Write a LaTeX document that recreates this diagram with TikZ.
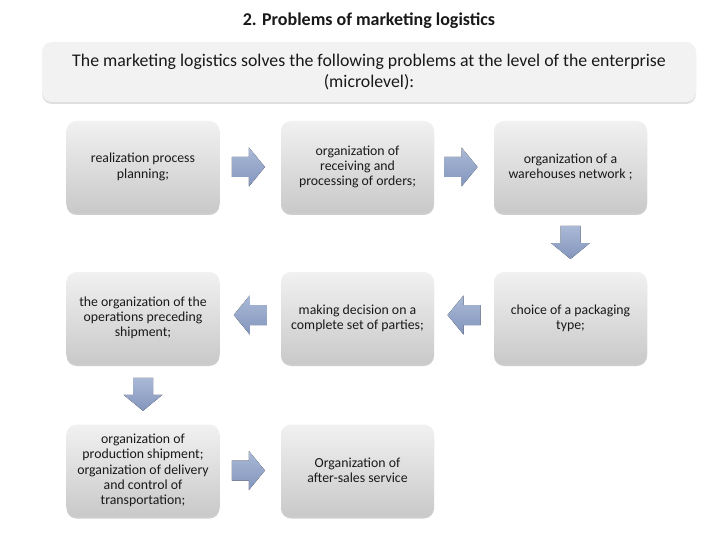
\documentclass[tikz,border=0pt]{standalone}
\usepackage{fontspec}
\setmainfont{Carlito}
\usetikzlibrary{shadows,calc}
\definecolor{arrA}{HTML}{AAB9D6}
\definecolor{arrB}{HTML}{8395BD}
\definecolor{boxT}{HTML}{F1F1F1}
\definecolor{boxB}{HTML}{C9C9C9}
\definecolor{hdrfill}{HTML}{F2F2F2}
\tikzset{
  stepbox/.style={rounded corners=10pt, minimum width=153pt, minimum height=92pt,
    top color=boxT, bottom color=boxB, align=center, inner sep=2pt,
    font=\fontsize{13.8}{15.3}\selectfont, text=black!90,
    drop shadow={shadow xshift=0pt, shadow yshift=-2pt, opacity=0.35, fill=black!55}},
  hdrbox/.style={rounded corners=10pt, minimum width=654pt, minimum height=60pt,
    fill=hdrfill, align=center, font=\fontsize{17.8}{21}\selectfont, text=black!90,
    drop shadow={shadow xshift=0pt, shadow yshift=-2pt, opacity=0.25, fill=black!50}},
  pics/rarr/.style={code={\fill[top color=arrA, bottom color=arrB]
    (-16.5,-10) -- (0.5,-10) -- (0.5,-19.5) -- (16.5,0) -- (0.5,19.5) -- (0.5,10) -- (-16.5,10) -- cycle;}},
  pics/larr/.style={code={\fill[top color=arrA, bottom color=arrB]
    (16.5,-10) -- (-0.5,-10) -- (-0.5,-19.5) -- (-16.5,0) -- (-0.5,19.5) -- (-0.5,10) -- (16.5,10) -- cycle;}},
  pics/darr/.style={code={\fill[top color=arrA, bottom color=arrB]
    (-10,-16.5) -- (-10,0.5) -- (-19.5,0.5) -- (0,16.5) -- (19.5,0.5) -- (10,0.5) -- (10,-16.5) -- cycle;}},
}
\begin{document}
\begin{tikzpicture}[x=1pt,y=-1pt]
\useasboundingbox (0,0) rectangle (720,540);
\fill[white] (0,0) rectangle (720,540);
\node[font=\bfseries\fontsize{18}{21}\selectfont, text=black!90] (title) at (369,21) {2. Problems of marketing logistics};
\node[hdrbox] (hdr) at (369,72) {The marketing logistics solves the following problems at the level of the enterprise\\(microlevel):};

\node[stepbox] (b1) at (143,167) {realization process\\planning;};
\node[stepbox] (b2) at (357.5,167) {organization of\\receiving and\\processing of orders;};
\node[stepbox] (b3) at (570.5,167) {organization of a\\warehouses network ;};
\node[stepbox] (b4) at (570.5,318) {choice of a packaging\\type;};
\node[stepbox] (b5) at (357.5,318) {making decision on a\\complete set of parties;};
\node[stepbox] (b6) at (143,318) {the organization of the\\operations preceding\\shipment;};
\node[stepbox] (b7) at (143,470.5) {organization of\\production shipment;\\organization of delivery\\and control of\\transportation;};
\node[stepbox] (b8) at (357.5,470.5) {Organization of\\after-sales service};

\coordinate (a12) at ($(b1.east)!0.47!(b2.west)$);
\coordinate (a23) at ($(b2.east)!0.45!(b3.west)$);
\coordinate (a34) at ($(b3.south)!0.5!(b4.north)$);
\coordinate (a45) at ($(b5.east)!0.5!(b4.west) + (0,-3)$);
\coordinate (a56) at ($(b6.east)!0.5!(b5.west) + (0,-3)$);
\coordinate (a67) at ($(b6.south)!0.5!(b7.north)$);
\coordinate (a78) at ($(b7.east)!0.47!(b8.west)$);
\pic at (a12) {rarr};
\pic at (a23) {rarr};
\pic at (a34) {darr};
\pic at (a45) {larr};
\pic at (a56) {larr};
\pic at (a67) {darr};
\pic at (a78) {rarr};
\end{tikzpicture}
\end{document}
